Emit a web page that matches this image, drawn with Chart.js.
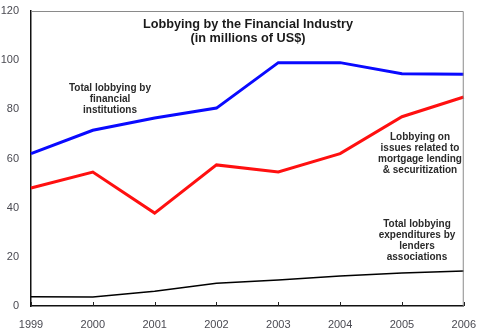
<!DOCTYPE html>
<html>
<head>
<meta charset="utf-8">
<script src="https://cdn.jsdelivr.net/npm/chart.js@4/dist/chart.umd.min.js"></script>
<style>
  html, body { margin: 0; padding: 0; background: #fff; }
  #wrap { width: 480px; height: 328px; }
</style>
</head>
<body>
<div id="wrap"><canvas id="c" width="480" height="328"></canvas></div>
<script>
const years = ['1999','2000','2001','2002','2003','2004','2005','2006'];
const financialInstitutions = [62, 71.5, 76.5, 80.5, 99, 99, 94.5, 94.3];
const mortgageLending = [48, 54.5, 37.8, 57.4, 54.5, 62, 77, 85];
const lendersAssociations = [3.8, 3.7, 6, 9.3, 10.6, 12.2, 13.4, 14.2];
const yTicks = [0, 20, 40, 60, 80, 100, 120];

const titleLines = ['Lobbying by the Financial Industry', '(in millions of US$)'];
const notes = [
  { lines: ['Total lobbying by', 'financial', 'institutions'], x: 110, y: 88 },
  { lines: ['Lobbying on', 'issues related to', 'mortgage lending', '& securitization'], x: 420, y: 137 },
  { lines: ['Total lobbying', 'expenditures by', 'lenders', 'associations'], x: 417, y: 224 },
];

const FONT = '"Liberation Sans", Arial, sans-serif';

// frame, inward x ticks, title and series labels
const decor = {
  id: 'decor',
  afterDraw(chart) {
    const { ctx, chartArea: a, scales } = chart;
    ctx.save();
    ctx.strokeStyle = '#8a8a8a';
    ctx.lineWidth = 1;
    ctx.beginPath();
    ctx.moveTo(a.left, a.top + 0.5);
    ctx.lineTo(a.right - 0.5, a.top + 0.5);
    ctx.lineTo(a.right - 0.5, a.bottom);
    ctx.stroke();

    ctx.strokeStyle = '#222';
    ctx.beginPath();
    scales.x.ticks.forEach((t, i) => {
      const px = Math.round(scales.x.getPixelForTick(i)) + 0.5;
      ctx.moveTo(px, a.bottom);
      ctx.lineTo(px, a.bottom - 4);
    });
    ctx.stroke();

    ctx.textAlign = 'center';
    ctx.textBaseline = 'middle';
    ctx.fillStyle = '#1a1a1a';
    ctx.font = 'bold 12.7px ' + FONT;
    titleLines.forEach((s, i) => ctx.fillText(s, 248, 24 + i * 14));

    ctx.fillStyle = '#2a2a2a';
    ctx.font = 'bold 10px ' + FONT;
    notes.forEach(n => n.lines.forEach((s, i) => ctx.fillText(s, n.x, n.y + i * 11)));
    ctx.restore();
  }
};

new Chart(document.getElementById('c'), {
  type: 'line',
  data: {
    labels: years,
    datasets: [
      { data: financialInstitutions, borderColor: '#0a0aff', borderWidth: 3, pointRadius: 0, tension: 0 },
      { data: mortgageLending, borderColor: '#ff1010', borderWidth: 3, pointRadius: 0, tension: 0 },
      { data: lendersAssociations, borderColor: '#000', borderWidth: 1.5, pointRadius: 0, tension: 0 },
    ]
  },
  options: {
    responsive: false,
    animation: false,
    layout: { padding: { top: 11, right: 13, left: 0, bottom: 0 } },
    plugins: { legend: { display: false }, tooltip: { enabled: false } },
    scales: {
      x: {
        offset: false,
        grid: { display: false },
        border: { color: '#111', width: 1.5 },
        ticks: { color: '#4a4a52', font: { family: FONT, size: 11 }, padding: 4, maxRotation: 0, autoSkip: false },
        afterFit(s) { s.height = 22; }
      },
      y: {
        min: 0, max: 120,
        afterBuildTicks(s) { s.ticks = yTicks.map(v => ({ value: v })); },
        grid: { display: false },
        border: { color: '#111', width: 1.5 },
        ticks: { color: '#4a4a52', font: { family: FONT, size: 11 }, padding: 4 },
        afterFit(s) { s.width = 31; }
      }
    }
  },
  plugins: [decor]
});
</script>
</body>
</html>
